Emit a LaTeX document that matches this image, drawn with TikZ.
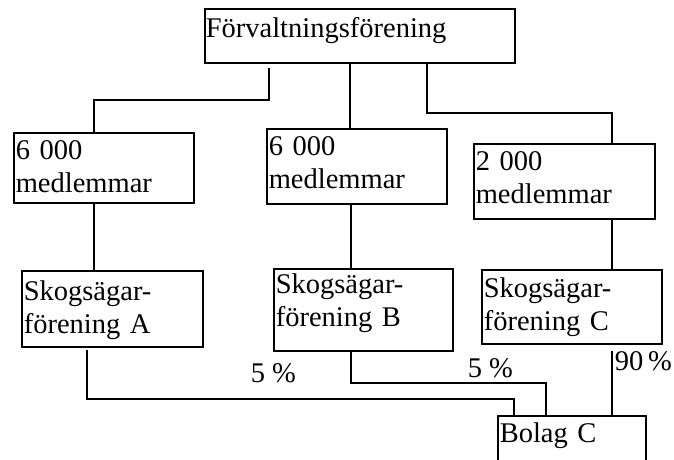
\documentclass[tikz,border=0pt]{standalone}
\usepackage{fontspec}
\setmainfont{Liberation Serif}
\begin{document}
\begin{tikzpicture}[x=1pt,y=-1pt,line width=1.6pt,
  box/.style={draw,rectangle,anchor=north west,inner sep=0pt},
  txt/.style={anchor=base west,inner sep=0pt,align=left,text width=178pt,
    font=\fontsize{28.5}{33}\selectfont},
  pct/.style={anchor=base west,inner sep=0pt,font=\fontsize{28.5}{33}\selectfont}]
\useasboundingbox (0,0) rectangle (674,459);
\clip (0,0) rectangle (674,459);
%top
  \node[box,minimum width=310pt,minimum height=54pt] (forv) at (204,8) {};
  \node[txt,text width=306pt] (forv-t) at (205,37) {Förvaltningsförening};
%members
  \node[box,minimum width=180pt,minimum height=70pt] (medA) at (13,132) {};
  \node[txt] (medA-t) at (15,159) {6 000\\medlemmar};
  \node[box,minimum width=180pt,minimum height=75pt] (medB) at (266,128) {};
  \node[txt] (medB-t) at (268,155) {6 000\\medlemmar};
  \node[box,minimum width=181pt,minimum height=75pt] (medC) at (473,143) {};
  \node[txt] (medC-t) at (475,170) {2 000\\medlemmar};
%associations
  \node[box,minimum width=181pt,minimum height=76pt] (skogA) at (21,270) {};
  \node[txt] (skogA-t) at (23,300) {Skogsägar-\\förening A};
  \node[box,minimum width=179pt,minimum height=82pt] (skogB) at (273,268) {};
  \node[txt] (skogB-t) at (275,293) {Skogsägar-\\förening B};
  \node[box,minimum width=180pt,minimum height=74pt] (skogC) at (481,269) {};
  \node[txt] (skogC-t) at (483,297) {Skogsägar-\\förening C};
%company
  \node[box,minimum width=148pt,minimum height=60pt] (bolag) at (497,415) {};
  \node[txt] (bolag-t) at (499,442) {Bolag C};
%shares
  \node[pct] (pA) at (250,382) {5 \%};
  \node[pct] (pB) at (467,377) {5 \%};
  \node[pct] (pC) at (614,370) {90\,\%};
%lines
  \draw (269,68) |- (94,100) -- (94,0 |- medA.north);
  \draw (350,0 |- forv.south) -- (350,0 |- medB.north);
  \draw (427,0 |- forv.south) |- (612,113) -- (612,0 |- medC.north);
  \draw (94,0 |- medA.south) -- (94,0 |- skogA.north);
  \draw (351,0 |- medB.south) -- (351,0 |- skogB.north);
  \draw (612,0 |- medC.south) -- (612,0 |- skogC.north);
  \draw (87,350) |- (514,399) -- (514,0 |- bolag.north);
  \draw (351,0 |- skogB.south) |- (546,383) -- (546,0 |- bolag.north);
  \draw (612,351) -- (612,0 |- bolag.north);
\end{tikzpicture}
\end{document}
